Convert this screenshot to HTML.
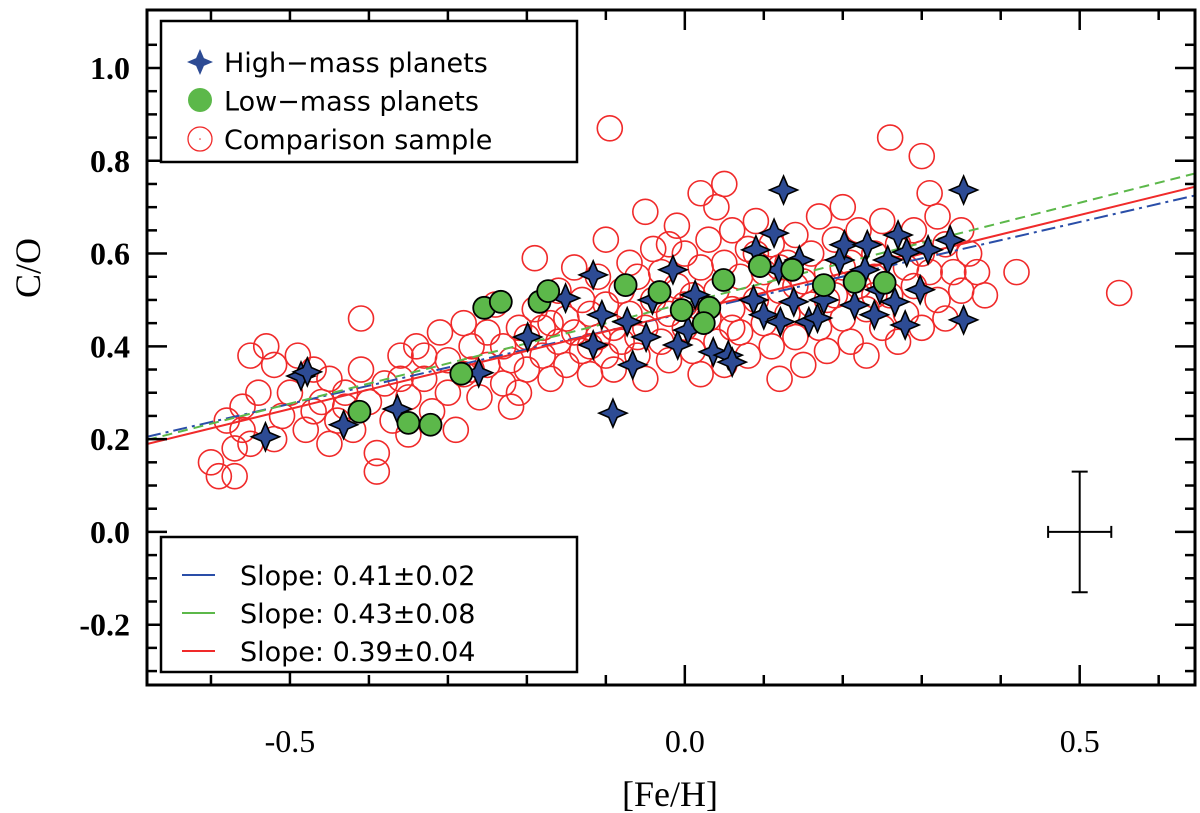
<!DOCTYPE html>
<html><head><meta charset="utf-8"><style>
html,body{margin:0;padding:0;background:#fff;}
svg{display:block;}
</style></head><body>
<svg id="chart" width="1200" height="813" viewBox="0 0 1200 813" xmlns="http://www.w3.org/2000/svg"></svg>
<script>
const xTicks=[-0.5,0.0,0.5];
const xTickLabels=["-0.5","0.0","0.5"];
const yTicks=[-0.2,0.0,0.2,0.4,0.6,0.8,1.0];
const yTickLabels=["-0.2","0.0","0.2","0.4","0.6","0.8","1.0"];
const compX=[-0.60,-0.59,-0.58,-0.57,-0.57,-0.56,-0.56,-0.55,-0.54,-0.55,-0.53,-0.52,-0.51,-0.50,-0.49,-0.48,-0.47,-0.46,-0.45,-0.45,-0.44,-0.43,-0.42,-0.41,-0.41,-0.40,-0.39,-0.39,-0.38,-0.37,-0.36,-0.35,-0.35,-0.34,-0.33,-0.32,-0.31,-0.30,-0.30,-0.29,-0.28,-0.28,-0.27,-0.26,-0.25,-0.25,-0.24,-0.23,-0.23,-0.22,-0.21,-0.21,-0.20,-0.20,-0.19,-0.19,-0.18,-0.17,-0.17,-0.16,-0.16,-0.15,-0.15,-0.14,-0.14,-0.13,-0.13,-0.12,-0.12,-0.11,-0.11,-0.10,-0.10,-0.10,-0.095,-0.09,-0.09,-0.08,-0.08,-0.07,-0.07,-0.06,-0.06,-0.05,-0.05,-0.05,-0.04,-0.04,-0.03,-0.03,-0.02,-0.02,-0.01,-0.01,0.00,0.00,0.01,0.01,0.02,0.02,0.03,0.03,0.04,0.04,0.04,0.05,0.05,0.05,0.06,0.06,0.07,0.07,0.08,0.08,0.09,0.09,0.10,0.10,0.11,0.11,0.12,0.12,0.13,0.13,0.14,0.14,0.15,0.15,0.16,0.16,0.17,0.17,0.18,0.18,0.19,0.19,0.20,0.20,0.21,0.21,0.22,0.22,0.23,0.23,0.24,0.24,0.25,0.25,0.26,0.26,0.27,0.27,0.28,0.28,0.29,0.29,0.30,0.30,0.30,0.31,0.31,0.32,0.32,0.33,0.33,0.34,0.35,0.35,0.36,0.37,0.38,0.42,0.55,-0.43,-0.52,-0.47,-0.36,-0.33,-0.27,-0.22,-0.18,-0.12,-0.06,0.00,0.06,0.12,0.18,0.24,0.02,0.09,-0.02,0.14,0.20];
const compY=[0.15,0.12,0.24,0.12,0.18,0.22,0.27,0.19,0.30,0.38,0.40,0.36,0.25,0.30,0.38,0.22,0.35,0.28,0.19,0.33,0.24,0.30,0.22,0.46,0.35,0.28,0.17,0.13,0.32,0.24,0.38,0.29,0.21,0.40,0.33,0.26,0.43,0.37,0.30,0.22,0.45,0.34,0.40,0.29,0.36,0.43,0.49,0.32,0.40,0.37,0.44,0.30,0.42,0.35,0.59,0.48,0.38,0.45,0.33,0.52,0.41,0.36,0.46,0.43,0.57,0.39,0.50,0.34,0.47,0.42,0.55,0.38,0.63,0.49,0.87,0.44,0.35,0.52,0.41,0.58,0.47,0.38,0.55,0.44,0.69,0.33,0.50,0.61,0.41,0.56,0.47,0.37,0.66,0.53,0.44,0.60,0.39,0.51,0.57,0.34,0.46,0.63,0.70,0.52,0.41,0.75,0.58,0.36,0.48,0.65,0.43,0.55,0.61,0.38,0.50,0.67,0.45,0.56,0.62,0.40,0.52,0.33,0.58,0.47,0.64,0.42,0.54,0.36,0.60,0.49,0.68,0.44,0.56,0.39,0.63,0.51,0.46,0.70,0.58,0.41,0.53,0.65,0.48,0.38,0.60,0.55,0.44,0.67,0.85,0.51,0.62,0.41,0.57,0.47,0.65,0.53,0.81,0.60,0.44,0.73,0.56,0.68,0.50,0.62,0.46,0.56,0.65,0.52,0.60,0.56,0.51,0.56,0.515,0.27,0.20,0.26,0.33,0.38,0.35,0.27,0.44,0.40,0.42,0.49,0.44,0.57,0.50,0.51,0.73,0.60,0.62,0.53,0.57];
const highX=[-0.531,-0.486,-0.478,-0.432,-0.364,-0.261,-0.199,-0.151,-0.116,-0.116,-0.105,-0.091,-0.073,-0.066,-0.049,-0.041,-0.015,-0.009,0.004,0.013,0.036,0.055,0.060,0.087,0.090,0.100,0.113,0.125,0.119,0.121,0.138,0.145,0.157,0.168,0.176,0.196,0.202,0.215,0.231,0.240,0.247,0.257,0.270,0.281,0.266,0.279,0.298,0.308,0.353,0.353,0.336,0.228];
const highY=[0.205,0.336,0.345,0.231,0.265,0.343,0.420,0.504,0.554,0.403,0.468,0.256,0.453,0.360,0.420,0.500,0.565,0.403,0.435,0.511,0.388,0.381,0.366,0.500,0.608,0.468,0.644,0.737,0.565,0.453,0.496,0.586,0.453,0.461,0.500,0.586,0.619,0.489,0.619,0.468,0.522,0.586,0.640,0.603,0.496,0.446,0.522,0.608,0.737,0.457,0.629,0.565];
const lowX=[-0.412,-0.350,-0.322,-0.283,-0.254,-0.233,-0.184,-0.173,-0.075,-0.032,-0.004,0.031,0.024,0.049,0.095,0.136,0.176,0.215,0.253];
const lowY=[0.259,0.235,0.231,0.341,0.483,0.496,0.496,0.519,0.532,0.517,0.478,0.483,0.450,0.543,0.573,0.565,0.532,0.539,0.537];
const fitNames=["fit-high-mass","fit-low-mass","fit-comparison"];
const fitSlopes=[0.392,0.433,0.418];
const fitIntercepts=[0.472,0.493,0.474];
const slopeLabels=["Slope: 0.41\u00b10.02","Slope: 0.43\u00b10.08","Slope: 0.39\u00b10.04"];
const errX=[0.5];const errY=[0.0];const errDX=[0.04];const errDY=[0.13];

const L=147,R=1195,T=10,B=685;
const X0=-0.681,X1=0.646,Y0=-0.33,Y1=1.125;
const sx=v=>L+(v-X0)/(X1-X0)*(R-L);
const sy=v=>B-(v-Y0)/(Y1-Y0)*(B-T);
const NS="http://www.w3.org/2000/svg";
const svg=document.getElementById('chart');
function mk(tag,attrs,parent){const e=document.createElementNS(NS,tag);for(const k in attrs)e.setAttribute(k,attrs[k]);(parent||svg).appendChild(e);return e;}

const clip=mk('clipPath',{id:'pc'});mk('rect',{x:L,y:T,width:R-L,height:B-T},clip);
const plot=mk('g',{'clip-path':'url(#pc)'});



for(let i=0;i<compX.length;i++){
  const c=mk('circle',{cx:sx(compX[i]),cy:sy(compY[i]),r:12.5,fill:'none',stroke:'#f02a2a','stroke-width':1.6},plot);
  
  
}
const fitColors=['#2a4ea8','#5cb84a','#f02a2a'];
const fitDash=['14,5,3,5','10,6','none'];
for(let i=0;i<fitSlopes.length;i++){
  const ln=mk('line',{x1:sx(X0),y1:sy(fitIntercepts[i]+fitSlopes[i]*X0),x2:sx(X1),y2:sy(fitIntercepts[i]+fitSlopes[i]*X1),stroke:fitColors[i],'stroke-width':2,'stroke-dasharray':fitDash[i]},plot);
  
  
}
function star(cx,cy,s){const w=s*0.3;return `M${cx},${cy-s} L${cx+w},${cy-w} L${cx+s},${cy} L${cx+w},${cy+w} L${cx},${cy+s} L${cx-w},${cy+w} L${cx-s},${cy} L${cx-w},${cy-w} Z`;}
for(let i=0;i<highX.length;i++){
  const p=mk('path',{d:star(sx(highX[i]),sy(highY[i]),14),fill:'#2d4b94',stroke:'#000','stroke-width':1.6},plot);
  
  
}
for(let i=0;i<lowX.length;i++){
  const c=mk('circle',{cx:sx(lowX[i]),cy:sy(lowY[i]),r:11,fill:'#5cb84a',stroke:'#000','stroke-width':1.8},plot);
  
  
}
for(let i=0;i<errX.length;i++){
  const g=mk('g',{stroke:'#000','stroke-width':2});
  
  
  const cx=sx(errX[i]),cy=sy(errY[i]),x1=sx(errX[i]-errDX[i]),x2=sx(errX[i]+errDX[i]),y1=sy(errY[i]+errDY[i]),y2=sy(errY[i]-errDY[i]);
  mk('line',{x1:x1,y1:cy,x2:x2,y2:cy},g);mk('line',{x1:cx,y1:y1,x2:cx,y2:y2},g);
  mk('line',{x1:x1,y1:cy-6,x2:x1,y2:cy+6},g);mk('line',{x1:x2,y1:cy-6,x2:x2,y2:cy+6},g);
  mk('line',{x1:cx-8,y1:y1,x2:cx+8,y2:y1},g);mk('line',{x1:cx-8,y1:y2,x2:cx+8,y2:y2},g);
}
const fr=mk('rect',{x:L,y:T,width:R-L,height:B-T,fill:'none',stroke:'#000','stroke-width':3});


const tg=mk('g',{stroke:'#000','stroke-width':2.5});
for(let v=-0.6;v<=0.64;v+=0.1){const vv=Math.round(v*10)/10;const major=Math.abs(vv*2-Math.round(vv*2))<1e-6;const len=major?20:10;
  mk('line',{x1:sx(vv),y1:B,x2:sx(vv),y2:B-len},tg);mk('line',{x1:sx(vv),y1:T,x2:sx(vv),y2:T+len},tg);}
for(let v=-0.3;v<=1.1;v+=0.05){const vv=Math.round(v*100)/100;const major=Math.abs(vv*5-Math.round(vv*5))<1e-6;const len=major?20:10;
  mk('line',{x1:L,y1:sy(vv),x2:L+len,y2:sy(vv)},tg);mk('line',{x1:R,y1:sy(vv),x2:R-len,y2:sy(vv)},tg);}
const serif='"Liberation Serif",serif';
for(let i=0;i<xTicks.length;i++){const t=mk('text',{x:sx(xTicks[i]),y:752,'text-anchor':'middle','font-family':serif,'font-size':32});t.textContent=xTickLabels[i];
  }
for(let i=0;i<yTicks.length;i++){const t=mk('text',{x:130,y:sy(yTicks[i])+11,'text-anchor':'end','font-family':serif,'font-size':32,'font-weight':'bold'});t.textContent=yTickLabels[i];
  }
const xt=mk('text',{x:670,y:806,'text-anchor':'middle','font-family':serif,'font-size':36});xt.textContent='[Fe/H]';

const yt=mk('text',{x:0,y:0,transform:'translate(40,268) rotate(-90)','text-anchor':'middle','font-family':serif,'font-size':36});yt.textContent='C/O';


const sans='"DejaVu Sans","Liberation Sans",sans-serif';
const lg=mk('g',{});
mk('rect',{x:161,y:21,width:416,height:141,fill:'#fff',stroke:'#000','stroke-width':2.5},lg);
mk('path',{d:star(200,62,13),fill:'#2d4b94'},lg);
mk('circle',{cx:200,cy:100,r:12,fill:'#5cb84a'},lg);
mk('circle',{cx:200,cy:139,r:12,fill:'none',stroke:'#f02a2a','stroke-width':1.3},lg);
mk('circle',{cx:200,cy:139,r:0.8,fill:'#f02a2a'},lg);
const ln1=["High\u2212mass planets","Low\u2212mass planets","Comparison sample"];
for(let i=0;i<3;i++){const t=mk('text',{x:224,y:72+i*38.5,'font-family':sans,'font-size':27},lg);t.textContent=ln1[i];
  }
const lg2=mk('g',{});
mk('rect',{x:161,y:537,width:416,height:135,fill:'#fff',stroke:'#000','stroke-width':2.5},lg2);
for(let i=0;i<3;i++){mk('line',{x1:182,y1:575+i*38,x2:215,y2:575+i*38,stroke:fitColors[i],'stroke-width':2},lg2);
  const t=mk('text',{x:240,y:585+i*38,'font-family':sans,'font-size':27},lg2);t.textContent=slopeLabels[i];
  }
</script>
</body></html>
